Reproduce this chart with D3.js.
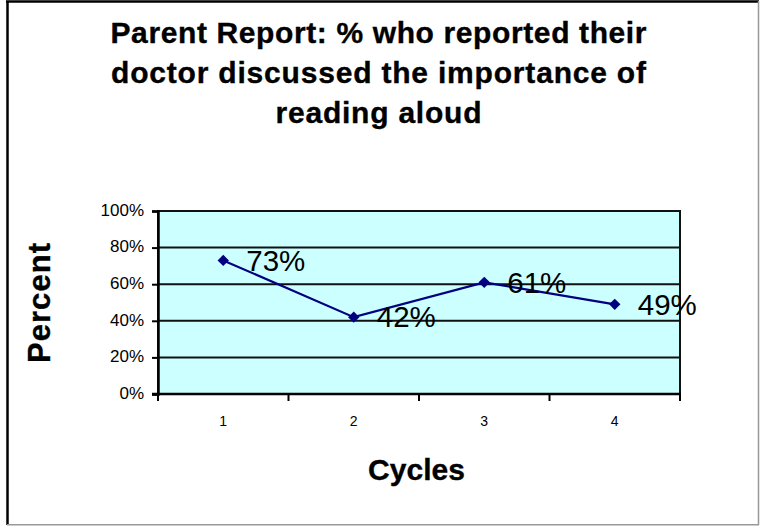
<!DOCTYPE html>
<html>
<head>
<meta charset="utf-8">
<script src="https://cdn.jsdelivr.net/npm/d3@7"></script>
<style>
  html, body { margin: 0; padding: 0; background: #fff; }
  svg { display: block; }
  text { font-family: "Liberation Sans", Arial, sans-serif; fill: #000; }
</style>
</head>
<body>
<svg id="chart" width="760" height="526"></svg>
<script>
const titleLines = [
  "Parent Report: % who reported their",
  "doctor discussed the importance of",
  "reading aloud"
];
const categories = ["1", "2", "3", "4"];
const values = [73, 42, 61, 49];
const valueLabels = ["73%", "42%", "61%", "49%"];
const yTicks = [0, 20, 40, 60, 80, 100];
const yTickLabels = ["0%", "20%", "40%", "60%", "80%", "100%"];
const xTitle = "Cycles";
const yTitle = "Percent";

const svg = d3.select("#chart");
const W = 760, H = 526;
const plot = { left: 158, right: 680, top: 211, bottom: 394 };

// outer chart frame
svg.append("rect").attr("x", 0).attr("y", 0).attr("width", W).attr("height", H).attr("fill", "#fff");
svg.append("line").attr("x1", 7.5).attr("x2", 7.5).attr("y1", 1).attr("y2", 525).attr("stroke", "#000").attr("stroke-width", 2.5);
svg.append("line").attr("x1", 6).attr("x2", 759).attr("y1", 1.5).attr("y2", 1.5).attr("stroke", "#000").attr("stroke-width", 2.5);
svg.append("line").attr("x1", 758.5).attr("x2", 758.5).attr("y1", 1).attr("y2", 525).attr("stroke", "#999").attr("stroke-width", 1.5);
svg.append("line").attr("x1", 7).attr("x2", 759).attr("y1", 524.8).attr("y2", 524.8).attr("stroke", "#999").attr("stroke-width", 1.5);

// title
const titleBaselines = [43.3, 83.3, 123.3];
const titleLengths = [536, 535, 206];
svg.append("g").selectAll("text").data(titleLines).join("text")
  .attr("x", 378.5)
  .attr("y", (d, i) => titleBaselines[i])
  .attr("text-anchor", "middle")
  .attr("font-size", 30)
  .attr("font-weight", "bold")
  .attr("stroke", "#000").attr("stroke-width", 0.35)
  .attr("textLength", (d, i) => titleLengths[i])
  .attr("lengthAdjust", "spacing")
  .text(d => d);

// scales
const x = d3.scaleBand().domain(categories).range([plot.left, plot.right]);
const y = d3.scaleLinear().domain([0, 100]).range([plot.bottom, plot.top]);

// plot area
svg.append("rect")
  .attr("x", plot.left).attr("y", plot.top)
  .attr("width", plot.right - plot.left).attr("height", plot.bottom - plot.top)
  .attr("fill", "#CCFFFF");

// gridlines
svg.append("g").selectAll("line").data(yTicks.filter(v => v > 0 && v < 100)).join("line")
  .attr("x1", plot.left).attr("x2", plot.right)
  .attr("y1", d => y(d)).attr("y2", d => y(d))
  .attr("stroke", "#111").attr("stroke-width", 2);

// plot border
svg.append("rect")
  .attr("x", plot.left).attr("y", plot.top)
  .attr("width", plot.right - plot.left).attr("height", plot.bottom - plot.top)
  .attr("fill", "none").attr("stroke", "#111").attr("stroke-width", 2);

// y axis
const yAxis = d3.axisLeft(y).tickValues(yTicks).tickSize(6).tickPadding(8)
  .tickFormat((d, i) => yTickLabels[i]);
const gy = svg.append("g").attr("transform", `translate(${plot.left},0)`).call(yAxis);
gy.select(".domain").attr("stroke", "#000").attr("stroke-width", 2.5);
gy.selectAll(".tick line").attr("stroke", "#000").attr("stroke-width", 2);
gy.selectAll(".tick text").attr("font-size", 17).attr("fill", "#000")
  .attr("font-family", "Liberation Sans, Arial, sans-serif").attr("dy", "0.25em");

// x axis: labels at band centres, ticks at band edges
const xAxis = d3.axisBottom(x).tickSize(0).tickPadding(22);
const gx = svg.append("g").attr("transform", `translate(0,${plot.bottom})`).call(xAxis);
gx.select(".domain").remove();
gx.selectAll(".tick text").attr("font-size", 14).attr("fill", "#000")
  .attr("font-family", "Liberation Sans, Arial, sans-serif");
svg.append("line").attr("x1", plot.left - 6).attr("x2", plot.right + 1)
  .attr("y1", plot.bottom).attr("y2", plot.bottom).attr("stroke", "#000").attr("stroke-width", 2.5);
const edges = categories.map(c => x(c)).concat([x(categories[categories.length - 1]) + x.bandwidth()]);
svg.append("g").selectAll("line").data(edges).join("line")
  .attr("x1", d => d).attr("x2", d => d)
  .attr("y1", plot.bottom).attr("y2", plot.bottom + 7)
  .attr("stroke", "#000").attr("stroke-width", 2);

// series
const cx = (d, i) => x(categories[i]) + x.bandwidth() / 2;
const line = d3.line().x((d, i) => cx(d, i)).y(d => y(d));
svg.append("path").datum(values)
  .attr("d", line).attr("fill", "none")
  .attr("stroke", "#000080").attr("stroke-width", 2.2);

const diamond = d3.symbol().type(d3.symbolSquare).size(64);
svg.append("g").selectAll("path").data(values).join("path")
  .attr("d", diamond)
  .attr("transform", (d, i) => `translate(${cx(d, i)},${y(d)}) rotate(45)`)
  .attr("fill", "#000080");

// data labels
svg.append("g").selectAll("text").data(values).join("text")
  .attr("x", (d, i) => cx(d, i) + 23)
  .attr("y", d => y(d))
  .attr("dy", "0.35em")
  .attr("font-size", 29.5)
  .text((d, i) => valueLabels[i]);

// axis titles
svg.append("text")
  .attr("x", 416.5).attr("y", 480)
  .attr("text-anchor", "middle")
  .attr("font-size", 30).attr("font-weight", "bold")
  .attr("stroke", "#000").attr("stroke-width", 0.35)
  .attr("textLength", 97).attr("lengthAdjust", "spacing")
  .text(xTitle);

svg.append("text")
  .attr("transform", "translate(50,303) rotate(-90)")
  .attr("text-anchor", "middle")
  .attr("font-size", 31).attr("font-weight", "bold")
  .attr("stroke", "#000").attr("stroke-width", 0.35)
  .attr("textLength", 120).attr("lengthAdjust", "spacing")
  .text(yTitle);
</script>
</body>
</html>
